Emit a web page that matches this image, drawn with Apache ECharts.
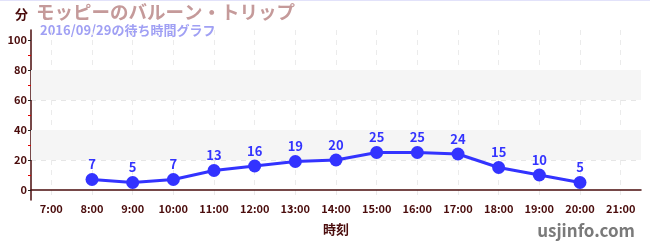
<!DOCTYPE html>
<html><head><meta charset="utf-8">
<script src="https://cdn.jsdelivr.net/npm/echarts@6/dist/echarts.min.js"></script>
<style>html,body{margin:0;padding:0;background:#fff}#c{width:650px;height:250px}</style>
</head><body><div id="c"></div>
<script>
const categories = ['7:00','8:00','9:00','10:00','11:00','12:00','13:00','14:00','15:00','16:00','17:00','18:00','19:00','20:00','21:00'];
const waitMinutes = [null,7,5,7,13,16,19,20,25,25,24,15,10,5,null];
const yMajorTicks = [0,20,40,60,80,100];
const yMinorTicks = [10,30,50,70,90];
const bands = [[20,40],[60,80]];

const FONT = '"Noto Sans CJK JP", "Noto Sans", sans-serif';
const MAROON = '#4a0c0c';
const chart = echarts.init(document.getElementById('c'), null, {renderer:'canvas'});
chart.setOption({
  animation:false,
  textStyle:{fontFamily:FONT},
  grid:{left:31,right:9,top:30,bottom:50,containLabel:false},
  graphic:[
    {type:'rect',shape:{x:0,y:0,width:650,height:1},style:{fill:'#e2e2fa'}},
    {type:'text',left:15,top:8,style:{text:'分',fontFamily:FONT,fontWeight:'bold',fontSize:13,fill:MAROON}},
    {type:'text',left:36,top:3,style:{text:'モッピーのバルーン・トリップ',fontFamily:FONT,fontWeight:'bold',fontSize:18.5,fill:'#c59a9a'}},
    {type:'text',left:40,top:24,style:{text:'2016/09/29の待ち時間グラフ',fontFamily:FONT,fontWeight:'bold',fontSize:13,fill:'#a0a0f4'}},
    {type:'text',right:15,top:222,style:{text:'usjinfo.com',fontFamily:FONT,fontWeight:'bold',fontSize:17,fill:'#7a7a7a'}}
  ],
  xAxis:{
    type:'category',data:categories,boundaryGap:true,
    name:'時刻',nameLocation:'middle',nameGap:23,
    nameTextStyle:{color:MAROON,fontWeight:'bold',fontSize:13,fontFamily:FONT},
    axisLine:{lineStyle:{color:MAROON,width:1.5}},
    axisTick:{alignWithLabel:true,length:3,lineStyle:{color:'#222'}},
    axisLabel:{color:MAROON,fontWeight:'bold',fontSize:11,margin:3,fontFamily:FONT,interval:0},
    splitLine:{show:true,alignWithLabel:true,lineStyle:{color:'#ebebeb',type:[5,5]}}
  },
  yAxis:[{
    type:'value',min:-6.667,max:106.667,
    axisLine:{show:true,onZero:false,lineStyle:{color:MAROON,width:1.5}},
    axisTick:{show:true,length:3,customValues:yMajorTicks,lineStyle:{color:'#222'}},
    axisLabel:{color:MAROON,fontWeight:'bold',fontSize:11,margin:4,fontFamily:FONT,customValues:yMajorTicks},
    splitLine:{show:true,showMinLine:false,showMaxLine:false,lineStyle:{color:'#e6e6e6',type:[5,5]}}
  },{
    type:'value',min:-6.667,max:106.667,position:'left',
    axisLine:{show:false},
    axisTick:{show:true,length:3,customValues:yMinorTicks,lineStyle:{color:'#e00000'}},
    axisLabel:{show:false},splitLine:{show:false}
  }],
  series:[{
    type:'line',data:waitMinutes,yAxisIndex:0,
    symbol:'circle',symbolSize:13,
    lineStyle:{color:'#3333ff',width:3},
    itemStyle:{color:'#3333ff'},
    label:{show:true,position:'top',distance:2,color:'#3333ff',fontWeight:'bold',fontSize:13,fontFamily:FONT},
    markArea:{silent:true,itemStyle:{color:'#f5f5f5'},label:{show:false},
      data:bands.map(b=>[{yAxis:b[0]},{yAxis:b[1]}])},
    z:5
  }]
});
</script></body></html>
